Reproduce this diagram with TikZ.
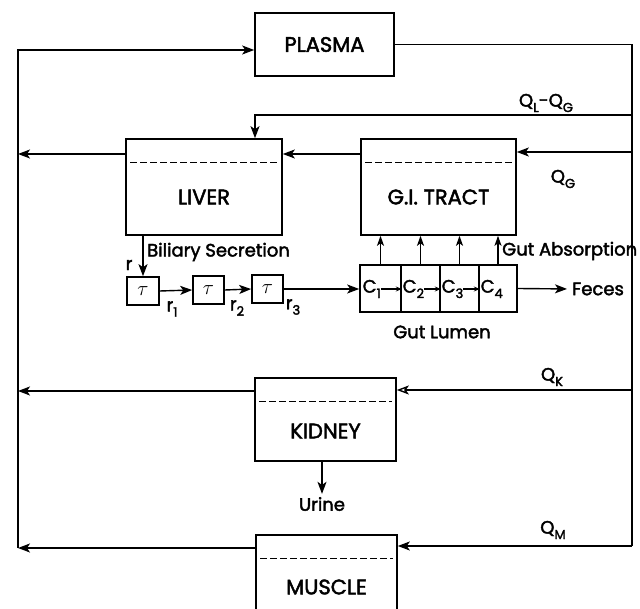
\documentclass[tikz,border=0pt]{standalone}
\usepackage{fontspec}
\setmainfont{Poppins}[FakeBold=2.2]
\usetikzlibrary{arrows.meta,calc}
\newcommand\subx[1]{\raisebox{-0.55ex}{\fontsize{13}{13}\selectfont #1}}
\begin{document}
\begin{tikzpicture}[x=1pt,y=-1pt,
  box/.style={draw, line width=1.6pt, inner sep=0pt},
  wire/.style={line width=1.4pt},
  arr/.style={wire,-{Stealth[length=12pt,width=9pt,inset=3pt]}},
  uarr/.style={wire,-{Stealth[length=10pt,width=7pt,inset=2.5pt]}},
  sarr/.style={line width=1.2pt,-{Stealth[length=6pt,width=5pt]}},
  bname/.style={font=\fontsize{21}{23}\selectfont, inner sep=0pt},
  lab/.style={font=\fontsize{18}{20}\selectfont, inner sep=0pt},
  taus/.style={box, minimum width=31pt, minimum height=28pt, font=\fontsize{20}{20}\selectfont},
  divline/.style={dash pattern=on 7pt off 3pt, line width=1.1pt}]
\clip (0,0) rectangle (640,609);
% boxes
\node[box, minimum width=139pt, minimum height=63pt, bname] (plasma) at (324.5,44.5) {PLASMA};
\node[box, minimum width=156pt, minimum height=96pt] (liver) at (204,187) {};
\node[bname] (livert) at (204,197) {LIVER};
\node[box, minimum width=155pt, minimum height=96pt] (gi) at (438.5,187) {};
\node[bname] (git) at (438.5,197) {G.I. TRACT};
\node[box, minimum width=141pt, minimum height=83pt] (kidney) at (325.5,419.5) {};
\node[bname] (kidneyt) at (325.5,431) {KIDNEY};
\node[box, minimum width=141pt, minimum height=100pt] (muscle) at (326.5,585) {};
\node[bname] (musclet) at (326.5,587) {MUSCLE};
\draw[divline] ($(liver.north west)+(5,24)$) -- ($(liver.north east)+(-5,24)$);
\draw[divline] ($(gi.north west)+(5,24)$) -- ($(gi.north east)+(-5,24)$);
\draw[divline] ($(kidney.north west)+(5,24)$) -- ($(kidney.north east)+(-5,24)$);
\draw[divline] ($(muscle.north west)+(5,24)$) -- ($(muscle.north east)+(-5,24)$);
% delay boxes
\node[taus, minimum width=32pt] (t1) at (143,291) {$\tau$};
\node[taus] (t2) at (208.5,290) {$\tau$};
\node[taus] (t3) at (267.5,289) {$\tau$};
% gut lumen cells
\node[box, minimum width=41pt, minimum height=47pt] (c1) at (380.5,288.5) {};
\node[box, minimum width=39pt, minimum height=47pt] (c2) at (420.5,288.5) {};
\node[box, minimum width=39pt, minimum height=47pt] (c3) at (459.5,288.5) {};
\node[box, minimum width=38pt, minimum height=47pt] (c4) at (498,288.5) {};
\node[lab, anchor=west] (c1t) at (362.5,289) {C\subx{1}};
\node[lab, anchor=west] (c2t) at (402.5,289) {C\subx{2}};
\node[lab, anchor=west] (c3t) at (441.5,289) {C\subx{3}};
\node[lab, anchor=west] (c4t) at (480.5,289) {C\subx{4}};
\draw[sarr] (c1t.east) -- (c1t.east -| c1.east);
\draw[sarr] (c2t.east) -- (c2t.east -| c2.east);
\draw[sarr] (c3t.east) -- (c3t.east -| c3.east);
% coordinates
\coordinate (rtop) at (632,44.5);
\coordinate (rbot) at (632,546);
\coordinate (ltop) at (18,50);
\coordinate (lbot) at (18,548);
\coordinate (qlg) at (632,115);
\coordinate (qg) at (632,152);
\coordinate (qk) at (632,390);
\coordinate (lvl) at (0,154);
\coordinate (klvl) at (0,391);
% connectors
\draw[wire] (plasma.east) -- (rtop) -- (rbot);
\draw[arr] (rbot) -- (rbot -| muscle.east);
\draw[arr] (muscle.west |- lbot) -- (lbot);
\draw[arr] (lbot) -- (ltop) -- (ltop -| plasma.west);
\draw[arr] (qlg) -| ([xshift=51pt]liver.north);
\draw[arr] (qg) -- (qg -| gi.east);
\draw[arr] (gi.west |- lvl) -- (liver.east |- lvl);
\draw[arr] (liver.west |- lvl) -- (ltop |- lvl);
\draw[arr] (t1.north |- liver.south) -- (t1.north);
\draw[arr] (t1.east) -- (t2.west);
\draw[arr] (t2.east) -- (t3.west);
\draw[arr] (t3.east) -- (t3.east -| c1.west);
\foreach \c in {c1,c2,c3,c4} \draw[uarr] (\c.north) -- (\c.north |- gi.south);
\node[lab, anchor=west] (feces) at (572,289) {Feces};
\draw[arr, shorten >=5pt] (c4.east) -- (feces.west);
\draw[wire,-{Stealth[open,length=12pt,width=9pt,inset=3pt]}] (qk) -- (qk -| kidney.east);
\draw[arr] (kidney.west |- klvl) -- (ltop |- klvl);
\node[lab] (urine) at (322,504) {Urine};
\draw[arr, shorten >=3pt] (kidney.south -| urine) -- (urine.north);
% labels
\node[lab] (qlqg) at (546,103) {Q\subx{L}-Q\subx{G}};
\node[lab] (qglab) at (563,179) {Q\subx{G}};
\node[lab] (qklab) at (552,377) {Q\subx{K}};
\node[lab] (qmlab) at (553,530) {Q\subx{M}};
\node[lab] (r0) at (129,265) {r};
\node[lab] (r1) at (172,309) {r\subx{1}};
\node[lab] (r2) at (237,308) {r\subx{2}};
\node[lab] (r3) at (293,307) {r\subx{3}};
\node[lab, anchor=west] (bil) at (147,252) {Biliary Secretion};
\node[lab, anchor=west] (gabs) at (502,251) {Gut Absorption};
\node[lab] (lumen) at (442,332) {Gut Lumen};
\end{tikzpicture}
\end{document}
